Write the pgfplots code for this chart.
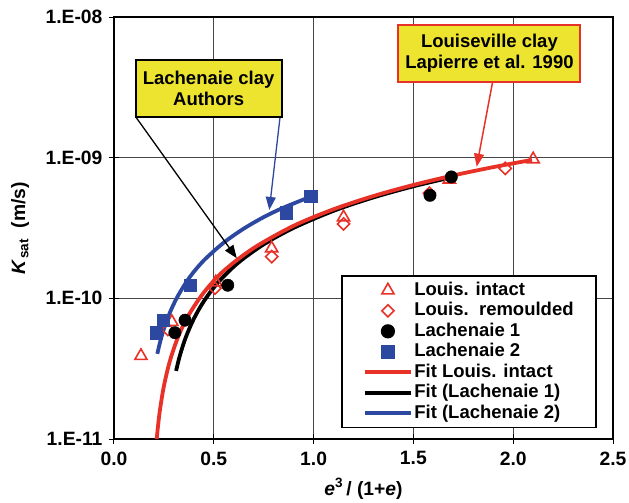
\documentclass[border=0pt]{standalone}
\usepackage{pgfplots}
\pgfplotsset{compat=1.18}
\usepackage{fontspec}
\setmainfont{Liberation Sans}
\usetikzlibrary{arrows.meta}
\definecolor{cred}{RGB}{232,50,40}
\definecolor{cblue}{RGB}{45,72,160}
\definecolor{cyel}{RGB}{236,228,46}
\definecolor{cgrid}{RGB}{70,70,70}
\newcommand{\fs}{\fontsize{18.5}{21}\selectfont\bfseries}
\newcommand{\ft}{\fontsize{19.3}{22}\selectfont\bfseries}
\begin{document}
\begin{tikzpicture}
\useasboundingbox (-114pt,-64pt) rectangle (515pt,439pt);
\begin{axis}[
  at={(0,0)}, anchor=south west,
  scale only axis, width=499pt, height=422pt,
  xmin=0, xmax=2.5, ymode=log, ymin=1e-11, ymax=1e-8,
  xtick={0,0.5,1,1.5,2,2.5},
  xticklabels={\textbf{0.0},\textbf{0.5},\textbf{1.0},\textbf{1.5},\textbf{2.0},\textbf{2.5}},
  ytick={1e-11,1e-10,1e-9,1e-8},
  yticklabels={\textbf{1.E-11},\textbf{1.E-10},\textbf{1.E-09},\textbf{1.E-08}},
  minor ytick={}, yminorgrids=false,
  tick label style={font=\ft},
  xticklabel style={yshift=-4pt},
  yticklabel style={xshift=-3pt},
  tick align=center, tick pos=left, major tick length=10pt,
  grid=major, major grid style={cgrid, line width=0.9pt},
  axis line style={black, line width=1.8pt},
  every tick/.style={black, line width=1pt},
  clip=false,
  xlabel={\textbf{\textit{e}}\textsuperscript{\textbf{3}}\textbf{\,/ (1+\textit{e})}},
  xlabel style={font=\ft, at={(axis description cs:0.5,-0.118)}, anchor=center},
  ylabel={\textbf{\textit{K}}\textsubscript{\textbf{sat}}\textbf{\ \ (m/s)}},
  ylabel style={font=\ft, at={(axis description cs:-0.188,0.5)}, anchor=center},
  legend cell align=left,
  legend style={at={(0.968,0.025)}, anchor=south east, font=\fs,
    draw=black, line width=1.8pt, inner xsep=21pt, inner ysep=4pt,
    nodes={inner sep=1.5pt, text height=13.5pt, text depth=4pt}},
  legend image code/.code={\draw[#1, mark repeat=2, mark phase=2] plot coordinates {(0pt,0pt) (23pt,0pt) (46pt,0pt)};},
]
% Louis. intact
\addplot[only marks, mark=triangle, mark size=7pt, cred, mark options={line width=1.6pt, fill=white}]
  coordinates {(0.135,3.9e-11) (0.29,6.8e-11) (0.51,1.30e-10) (0.79,2.27e-10) (1.15,3.77e-10) (1.68,7.0e-10) (2.10,9.75e-10)};
\addlegendentry{Louis. intact}
% Louis. remoulded
\addplot[only marks, mark=square, mark size=4.3pt, cred, mark options={rotate=45, line width=1.6pt, fill=white}]
  coordinates {(0.27,6.0e-11) (0.506,1.18e-10) (0.79,1.98e-10) (1.15,3.38e-10) (1.58,5.6e-10) (1.96,8.4e-10)};
\addlegendentry{Louis.\ \ remoulded}
% Lachenaie 1
\addplot[only marks, mark=*, mark size=6.2pt, black]
  coordinates {(0.305,5.7e-11) (0.356,7.0e-11) (0.57,1.24e-10) (1.583,5.4e-10) (1.69,7.3e-10)};
\addlegendentry{Lachenaie 1}
% Lachenaie 2
\addplot[only marks, mark=square*, mark size=6.2pt, cblue]
  coordinates {(0.21,5.7e-11) (0.247,7.0e-11) (0.381,1.24e-10) (0.862,4.07e-10) (0.985,5.3e-10)};
\addlegendentry{Lachenaie 2}
% legend images for fits
\addlegendimage{cred, line width=3.8pt}
\addlegendentry{Fit Louis. intact}
\addlegendimage{black, line width=3.8pt}
\addlegendentry{Fit (Lachenaie 1)}
\addlegendimage{cblue, line width=3.8pt}
\addlegendentry{Fit (Lachenaie 2)}
% Fit Lachenaie 2
\addplot[forget plot, cblue, line width=3.8pt, smooth] coordinates {
(0.217,4.03e-11) (0.23,4.83e-11) (0.25,6.07e-11) (0.28,7.93e-11) (0.32,1.04e-10)
(0.38,1.42e-10) (0.45,1.86e-10) (0.55,2.49e-10) (0.65,3.13e-10) (0.75,3.78e-10)
(0.85,4.42e-10) (0.985,5.28e-10)};
% Fit Lachenaie 1
\addplot[forget plot, black, line width=3.8pt, smooth] coordinates {
(0.311,3.05e-11) (0.33,3.92e-11) (0.36,5.30e-11) (0.40,7.16e-11) (0.45,9.53e-11)
(0.52,1.29e-10) (0.62,1.78e-10) (0.75,2.42e-10) (0.9,3.17e-10) (1.1,4.19e-10)
(1.3,5.22e-10) (1.5,6.26e-10) (1.69,7.25e-10)};
% Fit Louis. intact
\addplot[forget plot, cred, line width=3.8pt, smooth] coordinates {
(0.214,1.0e-11) (0.22,1.22e-11) (0.23,1.60e-11) (0.25,2.38e-11) (0.28,3.59e-11)
(0.32,5.27e-11) (0.37,7.44e-11) (0.45,1.10e-10) (0.55,1.57e-10) (0.7,2.28e-10)
(0.9,3.28e-10) (1.1,4.30e-10) (1.3,5.34e-10) (1.5,6.40e-10) (1.7,7.48e-10)
(1.9,8.57e-10) (2.094,9.64e-10)};
% annotations
\draw[black, line width=1.3pt, -{Triangle[length=13pt,width=10pt]}] (axis cs:0.109,1.95e-9) -- (axis cs:0.615,1.93e-10);
\draw[cblue, line width=1.3pt, -{Triangle[length=13pt,width=10pt]}] (axis cs:0.832,1.95e-9) -- (axis cs:0.778,4.25e-10);
\draw[cred, line width=1.5pt, -{Triangle[length=13pt,width=10pt]}] (axis cs:1.897,3.47e-9) -- (axis cs:1.817,8.63e-10);
\node[draw=black, line width=1.8pt, fill=cyel, font=\fs, align=center, minimum width=146pt, minimum height=57pt, inner sep=2pt] at (axis cs:0.474,3.1e-9) {Lachenaie clay\\Authors};
\node[draw=cred, line width=2pt, fill=cyel, font=\fs, align=center, minimum width=182pt, minimum height=57pt, inner sep=2pt] at (axis cs:1.881,5.52e-9) {Louiseville clay\\Lapierre et al. 1990};
\end{axis}
\end{tikzpicture}
\end{document}
